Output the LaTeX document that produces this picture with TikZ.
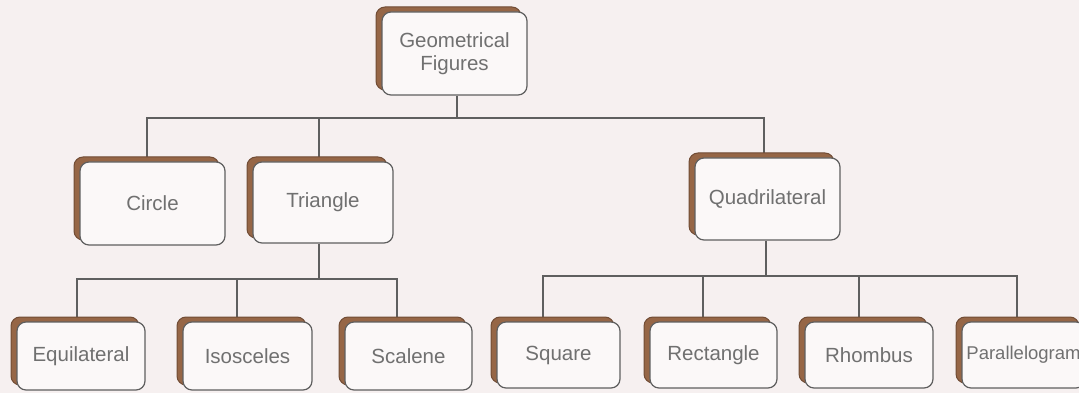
\documentclass[tikz,border=0pt]{standalone}
\usepackage{fontspec}
\setmainfont{Liberation Sans}
\usetikzlibrary{shadows,backgrounds}
\definecolor{bg}{RGB}{246,240,240}
\definecolor{edge}{RGB}{95,95,95}
\definecolor{txt}{RGB}{112,112,112}
\definecolor{brn}{RGB}{150,102,70}
\tikzset{
  box/.style={draw=edge, line width=1.2pt, fill=white!55!bg, rounded corners=9pt,
    inner sep=0pt, align=center, text=txt, font=\fontsize{20.5}{23}\selectfont,
    copy shadow={shadow xshift=-6pt, shadow yshift=5pt, fill=brn, draw=brn!75!black, line width=1pt}},
  link/.style={draw=edge, line width=1.3pt}
}
\begin{document}
\begin{tikzpicture}[x=1pt,y=-1pt]
\useasboundingbox (0,0) rectangle (1079,393);
\begin{scope}[on background layer]
  \fill[bg] (0,0) rectangle (1079,393);
\end{scope}
% nodes
\node[box, minimum width=145pt, minimum height=83pt] (geo) at (454.5,53.5) {Geometrical\\Figures};
\node[box, minimum width=145pt, minimum height=83pt] (circle) at (152.5,203.5) {Circle};
\node[box, minimum width=140pt, minimum height=81pt] (tri) at (323,202.5) {Triangle};
\node[box, minimum width=145pt, minimum height=82pt] (quad) at (767.5,199) {Quadrilateral};
\node[box, minimum width=128pt, minimum height=68pt] (equi) at (81,356) {Equilateral};
\node[box, minimum width=129pt, minimum height=68pt] (iso) at (247.5,356) {Isosceles};
\node[box, minimum width=127pt, minimum height=68pt] (scal) at (408.5,356) {Scalene};
\node[box, minimum width=123pt, minimum height=66pt] (square) at (558.5,355) {Square};
\node[box, minimum width=127pt, minimum height=66pt] (rect) at (713.5,355) {Rectangle};
\node[box, minimum width=128pt, minimum height=66pt] (rhomb) at (869,355) {Rhombus};
\node[box, minimum width=123pt, minimum height=66pt, font=\fontsize{18.5}{22}\selectfont] (para) at (1023.5,355) {Parallelogram};
% connectors
\coordinate (bar1) at (0,118);
\coordinate (bar2) at (0,279);
\coordinate (bar3) at (0,276);
\begin{scope}[on background layer]
  \draw[link] ([xshift=2.5pt]geo.south) -- ([xshift=2.5pt]geo.south |- bar1);
  \draw[link] ([xshift=-5.5pt]circle.north) -- ([xshift=-5.5pt]circle.north |- bar1)
    -- ([xshift=-3.5pt]quad.north |- bar1) -- ([xshift=-3.5pt]quad.north);
  \draw[link] ([xshift=-4pt]tri.north) -- ([xshift=-4pt]tri.north |- bar1);
  \draw[link] ([xshift=-4pt]tri.south) -- ([xshift=-4pt]tri.south |- bar2);
  \draw[link] ([xshift=-4pt]equi.north) -- ([xshift=-4pt]equi.north |- bar2)
    -- ([xshift=-11.5pt]scal.north |- bar2) -- ([xshift=-11.5pt]scal.north);
  \draw[link] ([xshift=-10.5pt]iso.north) -- ([xshift=-10.5pt]iso.north |- bar2);
  \draw[link] ([xshift=-1.5pt]quad.south) -- ([xshift=-1.5pt]quad.south |- bar3);
  \draw[link] ([xshift=-15.5pt]square.north) -- ([xshift=-15.5pt]square.north |- bar3)
    -- ([xshift=-6.5pt]para.north |- bar3) -- ([xshift=-6.5pt]para.north);
  \draw[link] ([xshift=-10.5pt]rect.north) -- ([xshift=-10.5pt]rect.north |- bar3);
  \draw[link] ([xshift=-10pt]rhomb.north) -- ([xshift=-10pt]rhomb.north |- bar3);
\end{scope}
\end{tikzpicture}
\end{document}
